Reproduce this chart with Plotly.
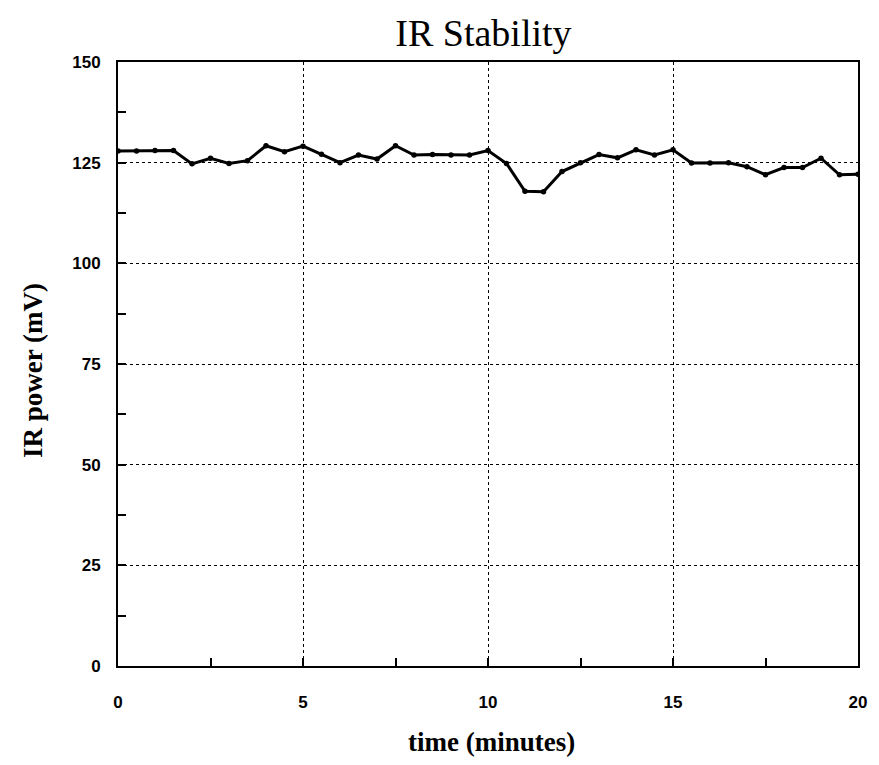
import plotly.graph_objects as go

# time (minutes), sampled every half minute
time_min = [0, 0.5, 1, 1.5, 2, 2.5, 3, 3.5, 4, 4.5, 5, 5.5, 6, 6.5, 7, 7.5, 8, 8.5, 9, 9.5,
            10, 10.5, 11, 11.5, 12, 12.5, 13, 13.5, 14, 14.5, 15, 15.5, 16, 16.5, 17, 17.5,
            18, 18.5, 19, 19.5, 20]
# IR power (mV)
ir_power = [127.9, 127.9, 128.0, 128.0, 124.7, 126.1, 124.8, 125.5, 129.2, 127.7, 129.1,
            127.1, 125.0, 126.9, 125.9, 129.2, 126.9, 127.0, 126.9, 126.9, 128.0, 124.8,
            117.9, 117.8, 122.8, 125.0, 127.0, 126.2, 128.2, 126.9, 128.2, 124.9, 124.9,
            125.0, 124.0, 122.0, 123.8, 123.8, 126.1, 122.0, 122.1]

x_ticks = [0, 5, 10, 15, 20]
y_ticks = [0, 25, 50, 75, 100, 125, 150]

fig = go.Figure()
fig.add_trace(go.Scatter(
    x=time_min, y=ir_power, mode="lines+markers",
    line=dict(color="black", width=3),
    marker=dict(color="black", size=5.5),
    showlegend=False,
))

serif = "Liberation Serif"
sans = "Liberation Sans"

fig.update_layout(
    width=879, height=765,
    margin=dict(l=118, r=21, t=62, b=99),
    paper_bgcolor="white", plot_bgcolor="white",
    title=dict(text="IR Stability", x=0.55, xref="container", xanchor="center",
               y=1 - 33 / 765, yref="container", yanchor="middle",
               font=dict(family=serif, size=38, color="black")),
    annotations=[
        dict(text="<b>IR power (mV)</b>", xref="paper", yref="paper",
             x=-0.115, y=0.49, textangle=-90, showarrow=False,
             xanchor="center", yanchor="middle",
             font=dict(family=serif, size=27, color="black")),
        dict(text="<b>time (minutes)</b>", xref="paper", yref="paper",
             x=0.505, y=-0.126, showarrow=False,
             xanchor="center", yanchor="middle",
             font=dict(family=serif, size=27, color="black")),
    ],
)

fig.update_xaxes(
    range=[0, 20], tickvals=x_ticks, ticktext=[str(v) for v in x_ticks],
    showline=True, linecolor="black", linewidth=2, mirror=True,
    showgrid=True, gridcolor="black", griddash="dot", gridwidth=1,
    ticks="inside", ticklen=8, tickcolor="black", tickwidth=1.5,
    minor=dict(dtick=2.5, ticks="inside", ticklen=8, tickcolor="black", tickwidth=1.5, showgrid=False),
    ticklabelstandoff=20,
    tickfont=dict(family=sans, size=17, weight="bold", color="black"),
    zeroline=False, fixedrange=True,
)
fig.update_yaxes(
    range=[0, 150], tickvals=y_ticks, ticktext=[str(v) for v in y_ticks],
    showline=True, linecolor="black", linewidth=2, mirror=True,
    showgrid=True, gridcolor="black", griddash="dot", gridwidth=1,
    ticks="inside", ticklen=8, tickcolor="black", tickwidth=1.5,
    minor=dict(dtick=12.5, ticks="inside", ticklen=8, tickcolor="black", tickwidth=1.5, showgrid=False),
    ticklabelstandoff=12,
    tickfont=dict(family=sans, size=17, weight="bold", color="black"),
    zeroline=False, fixedrange=True,
)

fig.write_html("out.html")
